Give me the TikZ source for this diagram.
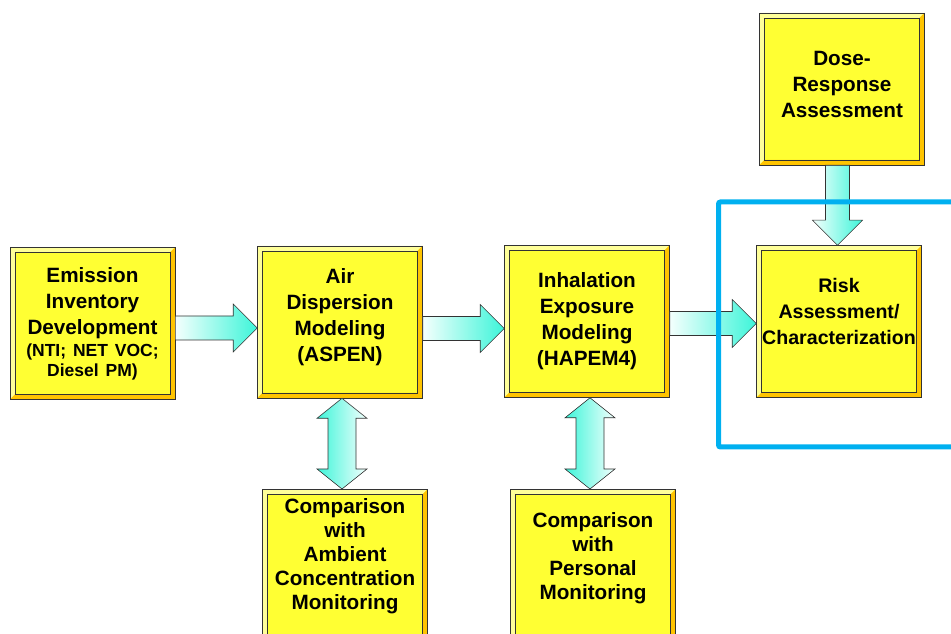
\documentclass[tikz,border=0pt]{standalone}
\usepackage{fontspec}
\setmainfont{Liberation Sans}
\usetikzlibrary{calc}

\begin{document}
\begin{tikzpicture}[x=1pt,y=1pt,font=\fontsize{20.7}{26}\selectfont\bfseries,align=center,
 box/.style={draw=black!80,line width=.6pt,fill=faceyellow,minimum width=165pt,minimum height=152pt,text width=162pt,inner sep=0pt,
  path picture={
   \path (path picture bounding box.south west) coordinate (bvsw)
         (path picture bounding box.north east) coordinate (bvne);
   \fill[bevellight] (bvsw) -- (bvsw |- bvne) -- (bvne) -- ([shift={(-5pt,-5pt)}]bvne) -| ([shift={(5pt,5pt)}]bvsw) -- cycle;
   \fill[beveldark] (bvsw) -- (bvsw -| bvne) -- (bvne) -- ([shift={(-5pt,-5pt)}]bvne) |- ([shift={(5pt,5pt)}]bvsw) -- cycle;
   \draw[black!80,line width=.5pt] ([shift={(5pt,5pt)}]bvsw) rectangle ([shift={(-5pt,-5pt)}]bvne);}},
 flow/.style={draw=black!80,line width=.6pt,left color=flowpale,right color=flowcyan},
 twoway/.style={draw=black!80,line width=.6pt,left color=flowcyan,right color=flowpale},
 focus/.style={draw=focusblue,line width=5pt,rounded corners=2pt}]
\definecolor{faceyellow}{HTML}{FFFF33}
\definecolor{bevellight}{HTML}{FFFF99}
\definecolor{beveldark}{HTML}{FFC400}
\definecolor{flowcyan}{HTML}{3DF5D9}
\definecolor{flowpale}{HTML}{F4FFFD}
\definecolor{focusblue}{HTML}{00B0F0}
\useasboundingbox (0,0) rectangle (951,634);
\clip (0,0) rectangle (951,634);
\node[box] (emis) at (92.5,310.5)
 {Emission\\Inventory\\Development\\[-4pt]{\fontsize{17.5}{20}\selectfont(NTI; NET VOC;}\\[-6pt]{\fontsize{17.5}{20}\selectfont Diesel PM)}};
\node[box,text depth=91pt] (disp) at (340,312) {Air\\Dispersion\\Modeling\\(ASPEN)};
\node[box] (inhal) at (587,312.5) {Inhalation\\Exposure\\Modeling\\(HAPEM4)};
\node[box,text depth=72pt,font=\fontsize{19.6}{26}\selectfont\bfseries] (risk) at (839,312.5) {Risk\\Assessment/\\Characterization};
\node[box,text depth=62pt] (dose) at (842,545) {Dose-\\Response\\Assessment};
\node[box,anchor=north,minimum height=160pt,text depth=126pt,font=\fontsize{20.7}{24}\selectfont\bfseries] (amb) at (345,145)
 {Comparison\\with\\Ambient\\Concentration\\Monitoring};
\node[box,anchor=north,minimum height=160pt,text depth=99pt,font=\fontsize{20.7}{24}\selectfont\bfseries] (pers) at (593,145)
 {Comparison\\with\\Personal\\Monitoring};
\shade[flow] let \p1=(emis.east),\p2=([yshift=-6pt]disp.west) in
 (\x1,\y2+12pt) -- (\x2-24pt,\y2+12pt) -- (\x2-24pt,\y2+24pt) -- (\p2) -- (\x2-24pt,\y2-24pt) -- (\x2-24pt,\y2-12pt) -- (\x1,\y2-12pt) -- cycle;
\shade[flow] let \p1=(disp.east),\p2=([yshift=-7pt]inhal.west) in
 (\x1,\y2+12pt) -- (\x2-24pt,\y2+12pt) -- (\x2-24pt,\y2+24pt) -- (\p2) -- (\x2-24pt,\y2-24pt) -- (\x2-24pt,\y2-12pt) -- (\x1,\y2-12pt) -- cycle;
\shade[flow] let \p1=(inhal.east),\p2=([yshift=-2pt]risk.west) in
 (\x1,\y2+12pt) -- (\x2-24pt,\y2+12pt) -- (\x2-24pt,\y2+24pt) -- (\p2) -- (\x2-24pt,\y2-24pt) -- (\x2-24pt,\y2-12pt) -- (\x1,\y2-12pt) -- cycle;
\shade[flow] let \p1=(dose.south),\p2=([xshift=-1.5pt]risk.north) in
 (\x2-12pt,\y1) -- (\x2-12pt,\y2+25pt) -- (\x2-25pt,\y2+25pt) -- (\p2) -- (\x2+25pt,\y2+25pt) -- (\x2+12pt,\y2+25pt) -- (\x2+12pt,\y1) -- cycle;
\shade[twoway] let \p1=([xshift=2pt]disp.south),\p2=(amb.north) in
 (\p1) -- (\x1+25pt,\y1-20pt) -- (\x1+14pt,\y1-20pt) -- (\x1+14pt,\y2+20pt) -- (\x1+25pt,\y2+20pt) -- (\x1,\y2)
 -- (\x1-25pt,\y2+20pt) -- (\x1-14pt,\y2+20pt) -- (\x1-14pt,\y1-20pt) -- (\x1-25pt,\y1-20pt) -- cycle;
\shade[twoway] let \p1=([xshift=3pt]inhal.south),\p2=(pers.north) in
 (\p1) -- (\x1+25pt,\y1-20pt) -- (\x1+14pt,\y1-20pt) -- (\x1+14pt,\y2+20pt) -- (\x1+25pt,\y2+20pt) -- (\x1,\y2)
 -- (\x1-25pt,\y2+20pt) -- (\x1-14pt,\y2+20pt) -- (\x1-14pt,\y1-20pt) -- (\x1-25pt,\y1-20pt) -- cycle;
% highlight frame runs off the right edge
\draw[focus] (718.5,187) rectangle (965,432);
\end{tikzpicture}
\end{document}
